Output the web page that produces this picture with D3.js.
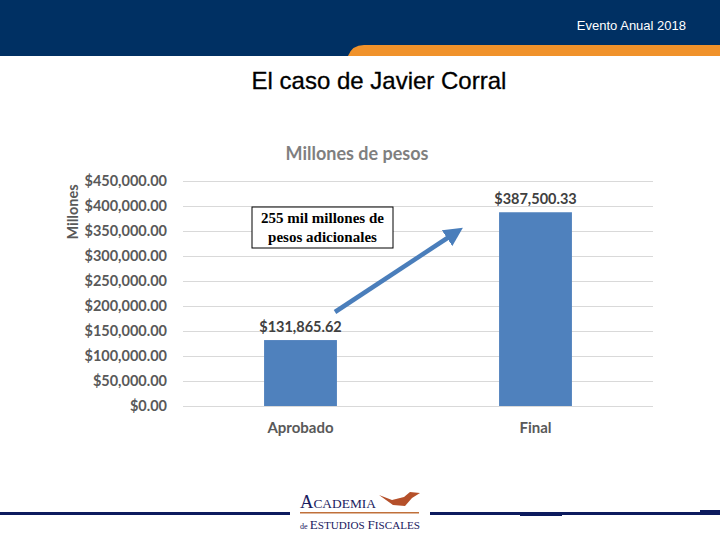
<!DOCTYPE html>
<html><head><meta charset="utf-8">
<script src="https://cdn.jsdelivr.net/npm/d3@7"></script>
<style>body{margin:0;background:#fff}svg{display:block}</style>
</head><body>
<script>
const categories = ["Aprobado", "Final"];
const values = [131865.62, 387500.33];
const yTicks = [0, 50000, 100000, 150000, 200000, 250000, 300000, 350000, 400000, 450000];
const chartTitle = "Millones de pesos";
const yTitle = "Millones";
const slideTitle = "El caso de Javier Corral";
const headerText = "Evento Anual 2018";
const noteLines = ["255 mil millones de", "pesos adicionales"];

const W = 720, H = 540;
const svg = d3.select("body").append("svg").attr("width", W).attr("height", H);

// Header
svg.append("rect").attr("x",0).attr("y",0).attr("width",W).attr("height",56).attr("fill","#003063");
svg.append("path").attr("d","M348,56 Q352,45 364,45 L720,45 L720,56 Z").attr("fill","#F0922B");
svg.append("text").attr("x",686).attr("y",30).attr("text-anchor","end")
  .attr("font-family","Liberation Sans, Arial").attr("font-size",13).attr("fill","#fff").text(headerText);
svg.append("text").attr("x",379).attr("y",89).attr("text-anchor","middle")
  .attr("font-family","Liberation Sans, Arial").attr("font-size",24).attr("fill","#000")
  .attr("stroke","#000").attr("stroke-width",0.3).text(slideTitle);

// Chart
const x0 = 183, x1 = 653;
const x = d3.scaleBand().domain(categories).range([x0, x1]).paddingInner(0.69).paddingOuter(0.345);
const y = d3.scaleLinear().domain([0, 450000]).range([406, 181]);
const font = "Lato, 'Open Sans', sans-serif";
const grey = "#595959";

const yAxis = d3.axisLeft(y).tickValues(yTicks).tickSize(-(x1 - x0)).tickPadding(16)
  .tickFormat(d => "$" + d3.format(",.2f")(d));
const gy = svg.append("g").attr("transform", `translate(${x0},0)`).call(yAxis);
gy.select(".domain").remove();
gy.selectAll(".tick line").attr("stroke","#d9d9d9").attr("stroke-width",1);
gy.selectAll(".tick text").attr("font-family",font).attr("font-size",14.5).attr("font-weight",700).attr("fill",grey);

const xAxis = d3.axisBottom(x).tickSize(0).tickPadding(16);
const gx = svg.append("g").attr("transform", `translate(0,${y(0)})`).call(xAxis);
gx.select(".domain").remove();
gx.selectAll(".tick text").attr("font-family",font).attr("font-size",15).attr("font-weight",700).attr("fill",grey);

svg.append("g").selectAll("rect").data(values).join("rect")
  .attr("x",(d,i)=>x(categories[i])).attr("width",x.bandwidth())
  .attr("y",d=>y(d)).attr("height",d=>y(0)-y(d)).attr("fill","#4F81BD");

svg.append("g").selectAll("text").data(values).join("text")
  .attr("x",(d,i)=>x(categories[i])+x.bandwidth()/2).attr("y",d=>y(d)-8)
  .attr("text-anchor","middle").attr("font-family",font).attr("font-size",14.5).attr("font-weight",700).attr("fill","#404040")
  .text(d=>"$" + d3.format(",.2f")(d));

svg.append("text").attr("x",357).attr("y",160).attr("text-anchor","middle")
  .attr("font-family",font).attr("font-size",18).attr("font-weight",700).attr("fill","#7f7f7f").text(chartTitle);
svg.append("text").attr("transform","translate(78,212) rotate(-90)").attr("text-anchor","middle")
  .attr("font-family",font).attr("font-size",14.5).attr("font-weight",700).attr("fill",grey).text(yTitle);

// Annotation box
svg.append("rect").attr("x",252).attr("y",207).attr("width",141).attr("height",41)
  .attr("fill","#fff").attr("stroke","#000").attr("stroke-width",1);
svg.append("g").selectAll("text").data(noteLines).join("text")
  .attr("x",322.5).attr("y",(d,i)=>223+i*19).attr("text-anchor","middle")
  .attr("font-family","Liberation Serif, 'Times New Roman', serif").attr("font-size",15).attr("font-weight",700).attr("fill","#000")
  .text(d=>d);

// Arrow
const defs = svg.append("defs");
defs.append("marker").attr("id","ah").attr("viewBox","0 0 10 10").attr("refX",5).attr("refY",5)
  .attr("markerWidth",4.2).attr("markerHeight",4.2).attr("orient","auto")
  .append("path").attr("d","M0,0 L10,5 L0,10 Z").attr("fill","#4A7EBB");
svg.append("line").attr("x1",335).attr("y1",312).attr("x2",455).attr("y2",233)
  .attr("stroke","#4A7EBB").attr("stroke-width",4.5).attr("marker-end","url(#ah)");

// Footer
const navy = "#0D1B5E";
svg.append("rect").attr("x",0).attr("y",512).attr("width",290).attr("height",3).attr("fill",navy);
svg.append("rect").attr("x",430).attr("y",512).attr("width",290).attr("height",3).attr("fill",navy);
svg.append("rect").attr("x",520).attr("y",512).attr("width",42).attr("height",4).attr("fill",navy);
svg.append("rect").attr("x",700).attr("y",510).attr("width",20).attr("height",5).attr("fill",navy);
const lf = "Liberation Serif, 'Times New Roman', serif";
const t1 = svg.append("text").attr("x",300).attr("y",508).attr("font-family",lf).attr("fill","#1a2060")
  .attr("textLength",76).attr("lengthAdjust","spacingAndGlyphs");
t1.append("tspan").attr("font-size",18).text("A");
t1.append("tspan").attr("font-size",13).text("CADEMIA");
svg.append("path").attr("d","M379,495 L392,500 L404,497 L410,492 L420,493 L412,498 L405,506 L393,505 Z").attr("fill","#B5502A");
svg.append("rect").attr("x",300).attr("y",512).attr("width",119).attr("height",1.5).attr("fill","#C0703A");
const t2 = svg.append("text").attr("x",300).attr("y",529).attr("font-family",lf).attr("fill","#1a2060")
  .attr("textLength",120).attr("lengthAdjust","spacingAndGlyphs");
t2.append("tspan").attr("font-size",8).text("de ");
t2.append("tspan").attr("font-size",13).text("E");
t2.append("tspan").attr("font-size",11).text("STUDIOS ");
t2.append("tspan").attr("font-size",13).text("F");
t2.append("tspan").attr("font-size",11).text("ISCALES");
</script>
</body></html>
